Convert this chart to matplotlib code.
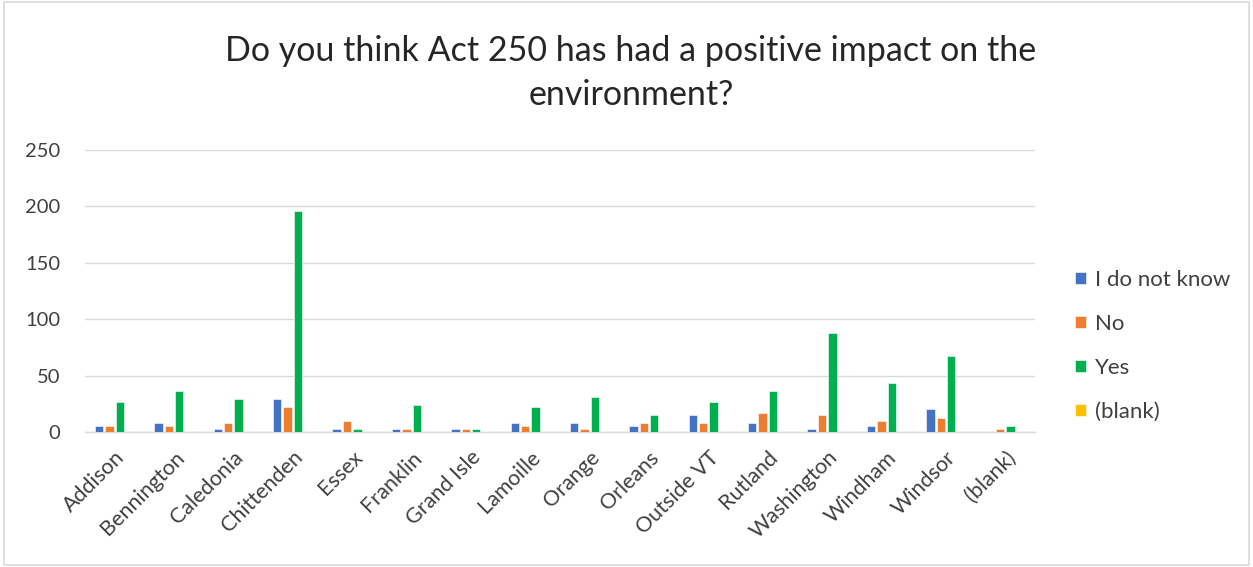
import matplotlib
matplotlib.use("Agg")
import matplotlib.pyplot as plt
import numpy as np

plt.rcParams['font.family'] = ['Lato', 'DejaVu Sans']

categories = ["Addison", "Bennington", "Caledonia", "Chittenden", "Essex", "Franklin",
              "Grand Isle", "Lamoille", "Orange", "Orleans", "Outside VT", "Rutland",
              "Washington", "Windham", "Windsor", "(blank)"]
dont_know = [5, 8, 3, 29, 3, 3, 3, 8, 8, 5, 15, 8, 3, 5, 20, 0]
no = [5, 5, 8, 22, 10, 3, 3, 5, 3, 8, 8, 17, 15, 10, 12, 3]
yes = [27, 36, 29, 196, 3, 24, 3, 22, 31, 15, 27, 36, 88, 43, 67, 5]
blank = [0] * 16
series_names = ["I do not know", "No", "Yes", "(blank)"]
colors = ["#4472C4", "#ED7D31", "#00B050", "#FFC000"]
yticks = [0, 50, 100, 150, 200, 250]

W, H = 1253, 567
fig = plt.figure(figsize=(W / 100, H / 100), dpi=100)
ax = fig.add_axes([85 / W, 1 - 432 / H, (1035 - 85) / W, (432 - 150) / H])

x = np.arange(len(categories))
bw = 0.14
step = 0.175
for i, (vals, name, c) in enumerate(zip([dont_know, no, yes, blank], series_names, colors)):
    ax.bar(x + (i - 1.5) * step, vals, width=bw, color=c, label=name,
           edgecolor="white", linewidth=0.4, zorder=3)

ax.set_xlim(-0.5, len(categories) - 0.5)
ax.set_ylim(0, 250)
ax.set_yticks(yticks)
ax.set_yticklabels([str(v) for v in yticks], fontsize=14.5, color="#404040")
ax.set_xticks(x)
ax.set_xticklabels(categories, rotation=45, ha="right", rotation_mode="anchor",
                   fontsize=15.5, color="#404040")
ax.tick_params(axis="y", length=0, pad=18)
ax.tick_params(axis="x", length=0, pad=11)
ax.grid(axis="y", color="#D9D9D9", linewidth=1, zorder=0)
for s in ["top", "right", "left"]:
    ax.spines[s].set_visible(False)
ax.spines["bottom"].set_color("#D9D9D9")
ax.spines["bottom"].set_linewidth(1)

fig.text(631 / W, 1 - 73 / H, "Do you think Act 250 has had a positive impact on the\nenvironment?",
         ha="center", va="center", fontsize=24.5, color="#262626", linespacing=1.45)

handles, labels = ax.get_legend_handles_labels()
leg = fig.legend(handles, labels, loc="upper left", bbox_to_anchor=(1055 / W, 1 - 250 / H),
                 frameon=False, fontsize=16, handlelength=0.5, handleheight=0.5,
                 handletextpad=0.4, labelspacing=1.08, labelcolor="#404040")

border = plt.Rectangle((0.003, 0.003), 0.994, 0.994, transform=fig.transFigure,
                       fill=False, edgecolor="#D9D9D9", linewidth=1.2)
fig.patches.append(border)

fig.savefig("out.png", dpi=100)
